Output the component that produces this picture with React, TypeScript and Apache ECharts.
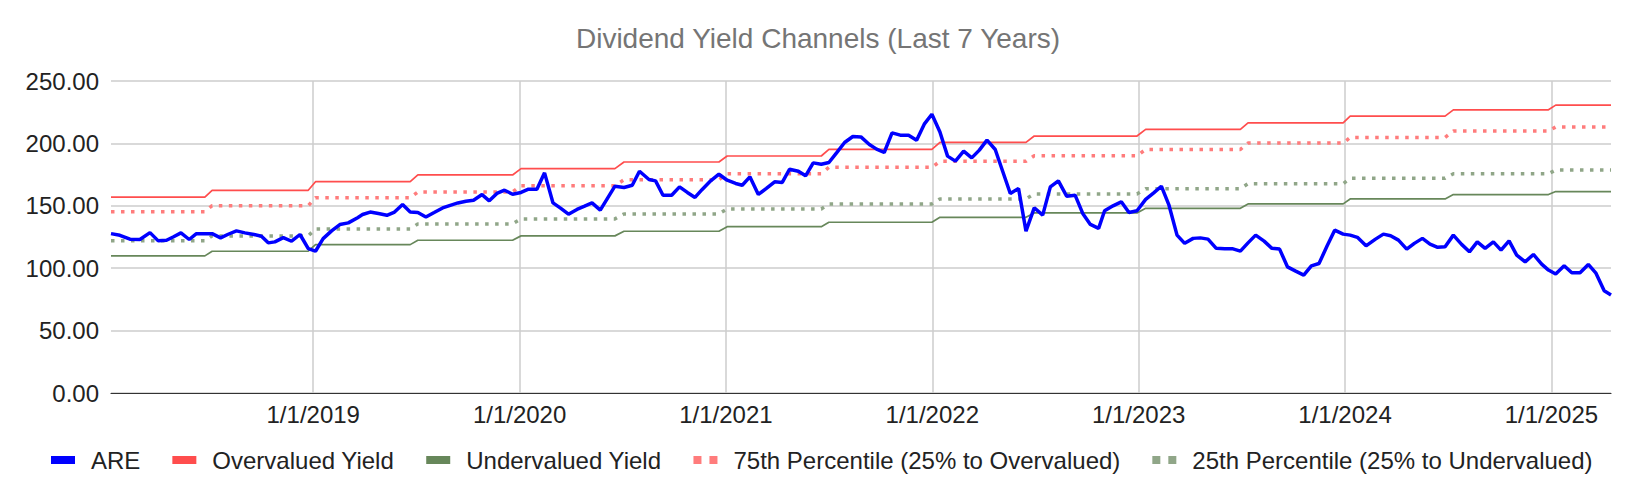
import React, { useEffect, useRef } from "react";
import * as echarts from "echarts";

// ARE dividend-yield values, [decimal year, value]
const arePoints: [number, number][] = [
  [2018.020, 127.7], [2018.063, 126.4], [2018.112, 123.2], [2018.160, 123.0], [2018.209, 128.5],
  [2018.249, 121.9], [2018.289, 122.4], [2018.321, 125.0], [2018.359, 128.3], [2018.399, 123.0],
  [2018.434, 127.7], [2018.475, 127.7], [2018.510, 127.7], [2018.551, 124.3], [2018.588, 127.2],
  [2018.628, 129.9], [2018.669, 128.3], [2018.713, 127.0], [2018.749, 125.6], [2018.782, 120.3],
  [2018.814, 121.1], [2018.855, 124.5], [2018.895, 121.6], [2018.936, 127.0], [2018.976, 115.7],
  [2019.011, 113.6], [2019.048, 123.7], [2019.089, 129.9], [2019.129, 135.0], [2019.170, 136.3],
  [2019.215, 140.5], [2019.239, 143.0], [2019.276, 145.0], [2019.316, 143.8], [2019.357, 142.4],
  [2019.394, 145.0], [2019.433, 151.0], [2019.470, 145.0], [2019.507, 144.6], [2019.546, 141.0],
  [2019.586, 144.6], [2019.627, 148.3], [2019.664, 150.4], [2019.701, 152.3], [2019.740, 153.7],
  [2019.777, 154.5], [2019.818, 159.0], [2019.853, 154.0], [2019.890, 159.9], [2019.927, 162.5],
  [2019.966, 159.3], [2020.007, 160.7], [2020.043, 163.3], [2020.084, 163.3], [2020.121, 176.4],
  [2020.162, 152.3], [2020.200, 147.9], [2020.237, 143.3], [2020.278, 147.1], [2020.315, 149.7],
  [2020.351, 152.3], [2020.391, 146.5], [2020.462, 165.7], [2020.506, 164.7], [2020.546, 166.5],
  [2020.581, 177.7], [2020.627, 171.1], [2020.659, 170.0], [2020.695, 158.5], [2020.737, 158.5],
  [2020.775, 165.2], [2020.813, 160.7], [2020.850, 156.7], [2020.885, 163.1], [2020.926, 170.0],
  [2020.966, 175.3], [2021.006, 170.5], [2021.047, 167.9], [2021.079, 166.5], [2021.116, 173.2],
  [2021.157, 159.1], [2021.196, 163.9], [2021.236, 169.2], [2021.273, 168.7], [2021.308, 179.3],
  [2021.351, 177.7], [2021.386, 174.0], [2021.423, 184.4], [2021.462, 183.3], [2021.499, 184.7],
  [2021.536, 192.4], [2021.575, 200.7], [2021.615, 205.5], [2021.654, 205.2], [2021.695, 199.1],
  [2021.730, 195.4], [2021.767, 192.7], [2021.805, 208.4], [2021.845, 206.6], [2021.885, 206.6],
  [2021.924, 202.6], [2021.961, 215.4], [2021.998, 223.4], [2022.037, 209.2], [2022.074, 189.8],
  [2022.112, 185.8], [2022.152, 193.8], [2022.191, 188.4], [2022.228, 194.6], [2022.265, 202.6],
  [2022.305, 195.1], [2022.341, 177.7], [2022.378, 159.9], [2022.418, 163.9], [2022.454, 129.7],
  [2022.494, 148.4], [2022.535, 142.5], [2022.572, 165.2], [2022.611, 170.0], [2022.651, 157.7],
  [2022.692, 158.5], [2022.729, 143.9], [2022.766, 135.1], [2022.806, 131.9], [2022.835, 146.0],
  [2022.876, 150.0], [2022.916, 153.2], [2022.953, 144.7], [2022.992, 146.0], [2023.034, 155.1],
  [2023.073, 160.4], [2023.110, 165.7], [2023.147, 150.5], [2023.186, 126.5], [2023.223, 119.9],
  [2023.264, 123.9], [2023.299, 124.3], [2023.336, 123.3], [2023.376, 115.9], [2023.417, 115.5],
  [2023.457, 115.5], [2023.493, 113.7], [2023.530, 120.3], [2023.567, 126.5], [2023.608, 121.7],
  [2023.646, 115.9], [2023.683, 115.3], [2023.721, 101.1], [2023.761, 97.7], [2023.800, 94.5],
  [2023.837, 101.9], [2023.874, 103.8], [2023.913, 117.7], [2023.950, 130.5], [2023.991, 127.3],
  [2024.025, 126.5], [2024.060, 124.7], [2024.102, 117.9], [2024.146, 123.1], [2024.186, 127.3],
  [2024.221, 126.0], [2024.259, 122.5], [2024.299, 115.3], [2024.336, 119.9], [2024.375, 123.9],
  [2024.412, 119.3], [2024.449, 116.7], [2024.485, 117.1], [2024.525, 126.5], [2024.565, 119.1],
  [2024.603, 113.1], [2024.641, 121.1], [2024.679, 115.9], [2024.719, 121.1], [2024.756, 114.5],
  [2024.795, 121.9], [2024.832, 110.5], [2024.873, 105.1], [2024.913, 111.0], [2024.953, 103.3],
  [2024.986, 98.5], [2025.021, 95.3], [2025.062, 101.9], [2025.099, 96.3], [2025.139, 96.3],
  [2025.179, 103.0], [2025.215, 96.3], [2025.256, 81.9], [2025.289, 78.5],
];

// Half-year channel levels: 2018 H1, 2018 H2, ..., 2025 H1
const firstPeriodYear = 2018;
const midYearFraction = 0.4935;
const overvaluedLevels = [157.0, 162.4, 169.3, 174.7, 179.8, 185.1, 189.9, 195.2, 200.8, 205.9, 211.2, 216.5, 221.9, 226.9, 230.7];
const pct75Levels = [145.3, 150.1, 156.5, 161.1, 166.1, 170.9, 175.7, 180.8, 185.6, 190.1, 195.2, 200.3, 204.8, 209.9, 213.1];
const pct25Levels = [121.9, 125.9, 131.5, 135.5, 139.5, 143.5, 147.5, 151.5, 155.5, 159.5, 163.7, 167.7, 172.0, 175.7, 178.6];
const undervaluedLevels = [109.9, 113.6, 118.9, 122.4, 125.9, 129.6, 133.3, 136.8, 140.8, 144.3, 148.0, 151.5, 155.5, 159.0, 161.4];

const yearTicks = [2019, 2020, 2021, 2022, 2023, 2024, 2025];
const yMin = 0;
const yMax = 250;
const yInterval = 50;

const seriesNames = [
  "ARE",
  "Overvalued Yield",
  "Undervalued Yield",
  "75th Percentile (25% to Overvalued)",
  "25th Percentile (25% to Undervalued)",
];

const FONT = '"Liberation Sans", Arial, Helvetica, sans-serif';
const DOTS_ICON = "path://M0,0H8V8H0Z M16,0H24V8H16Z";

function periodIndex(d: number): number {
  const y = Math.floor(d);
  return (y - firstPeriodYear) * 2 + (d - y >= midYearFraction ? 1 : 0);
}

function channelData(levels: number[]): [number, number][] {
  return arePoints.map(([d]) => [d, levels[periodIndex(d)]]);
}

export default function App() {
  const ref = useRef<HTMLDivElement>(null);

  useEffect(() => {
    if (!ref.current) return;
    const chart = echarts.init(ref.current, undefined, { renderer: "svg" });
    const xMin = arePoints[0][0];
    const xMax = arePoints[arePoints.length - 1][0];

    const blue = "#0000ff";
    const red = "#ff4d4d";
    const green = "#67875a";
    const redDot = "#ff7c7c";
    const greenDot = "#90a688";

    chart.setOption({
      animation: false,
      backgroundColor: "#ffffff",
      title: {
        text: "Dividend Yield Channels (Last 7 Years)",
        left: "center",
        top: 24,
        padding: 0,
        textStyle: { fontFamily: FONT, fontSize: 28, fontWeight: "normal", color: "#757575" },
      },
      legend: {
        left: 46,
        top: 443,
        itemWidth: 24,
        itemHeight: 8,
        itemGap: 32,
        selectedMode: false,
        itemStyle: { borderWidth: 0 },
        textStyle: { fontFamily: FONT, fontSize: 24, color: "#222222", padding: [0, 0, 0, 11] },
        data: [
          { name: seriesNames[0], icon: "rect" },
          { name: seriesNames[1], icon: "rect" },
          { name: seriesNames[2], icon: "rect" },
          { name: seriesNames[3], icon: DOTS_ICON },
          { name: seriesNames[4], icon: DOTS_ICON },
        ],
      },
      grid: { left: 111, right: 25, top: 81, bottom: 101, containLabel: false, outerBoundsMode: "none" },
      xAxis: {
        type: "value",
        min: xMin,
        max: xMax,
        axisLine: { show: true, onZero: false, lineStyle: { color: "#333333", width: 1.2 } },
        axisTick: { show: false, customValues: yearTicks },
        axisLabel: {
          customValues: yearTicks,
          formatter: (v: number) => `1/1/${Math.round(v)}`,
          fontFamily: FONT,
          fontSize: 24,
          color: "#222222",
          margin: 9,
        },
        splitLine: { show: true, lineStyle: { color: "#cccccc", width: 1.5 } },
      },
      yAxis: {
        type: "value",
        min: yMin,
        max: yMax,
        interval: yInterval,
        axisLine: { show: false },
        axisTick: { show: false },
        axisLabel: {
          formatter: (v: number) => v.toFixed(2),
          fontFamily: FONT,
          fontSize: 24,
          color: "#222222",
          margin: 12,
        },
        splitLine: { show: true, lineStyle: { color: "#cccccc", width: 1.5 } },
      },
      series: [
        {
          name: seriesNames[0],
          type: "line",
          data: arePoints,
          symbol: "none",
          z: 5,
          itemStyle: { color: blue },
          lineStyle: { color: blue, width: 3.5 },
        },
        {
          name: seriesNames[1],
          type: "line",
          data: channelData(overvaluedLevels),
          symbol: "none",
          z: 3,
          itemStyle: { color: red },
          lineStyle: { color: red, width: 1.7 },
        },
        {
          name: seriesNames[2],
          type: "line",
          data: channelData(undervaluedLevels),
          symbol: "none",
          z: 3,
          itemStyle: { color: green },
          lineStyle: { color: green, width: 1.7 },
        },
        {
          name: seriesNames[3],
          type: "line",
          data: channelData(pct75Levels),
          symbol: "none",
          z: 2,
          itemStyle: { color: redDot },
          lineStyle: { color: redDot, width: 3.5, type: [3.5, 6.5], cap: "butt" },
        },
        {
          name: seriesNames[4],
          type: "line",
          data: channelData(pct25Levels),
          symbol: "none",
          z: 2,
          itemStyle: { color: greenDot },
          lineStyle: { color: greenDot, width: 3.5, type: [3.5, 6.5], cap: "butt" },
        },
      ],
    });

    return () => {
      chart.dispose();
    };
  }, []);

  return (
    <div
      ref={ref}
      style={{ position: "fixed", left: 0, top: 0, width: 1636, height: 494, background: "#fff" }}
    />
  );
}
